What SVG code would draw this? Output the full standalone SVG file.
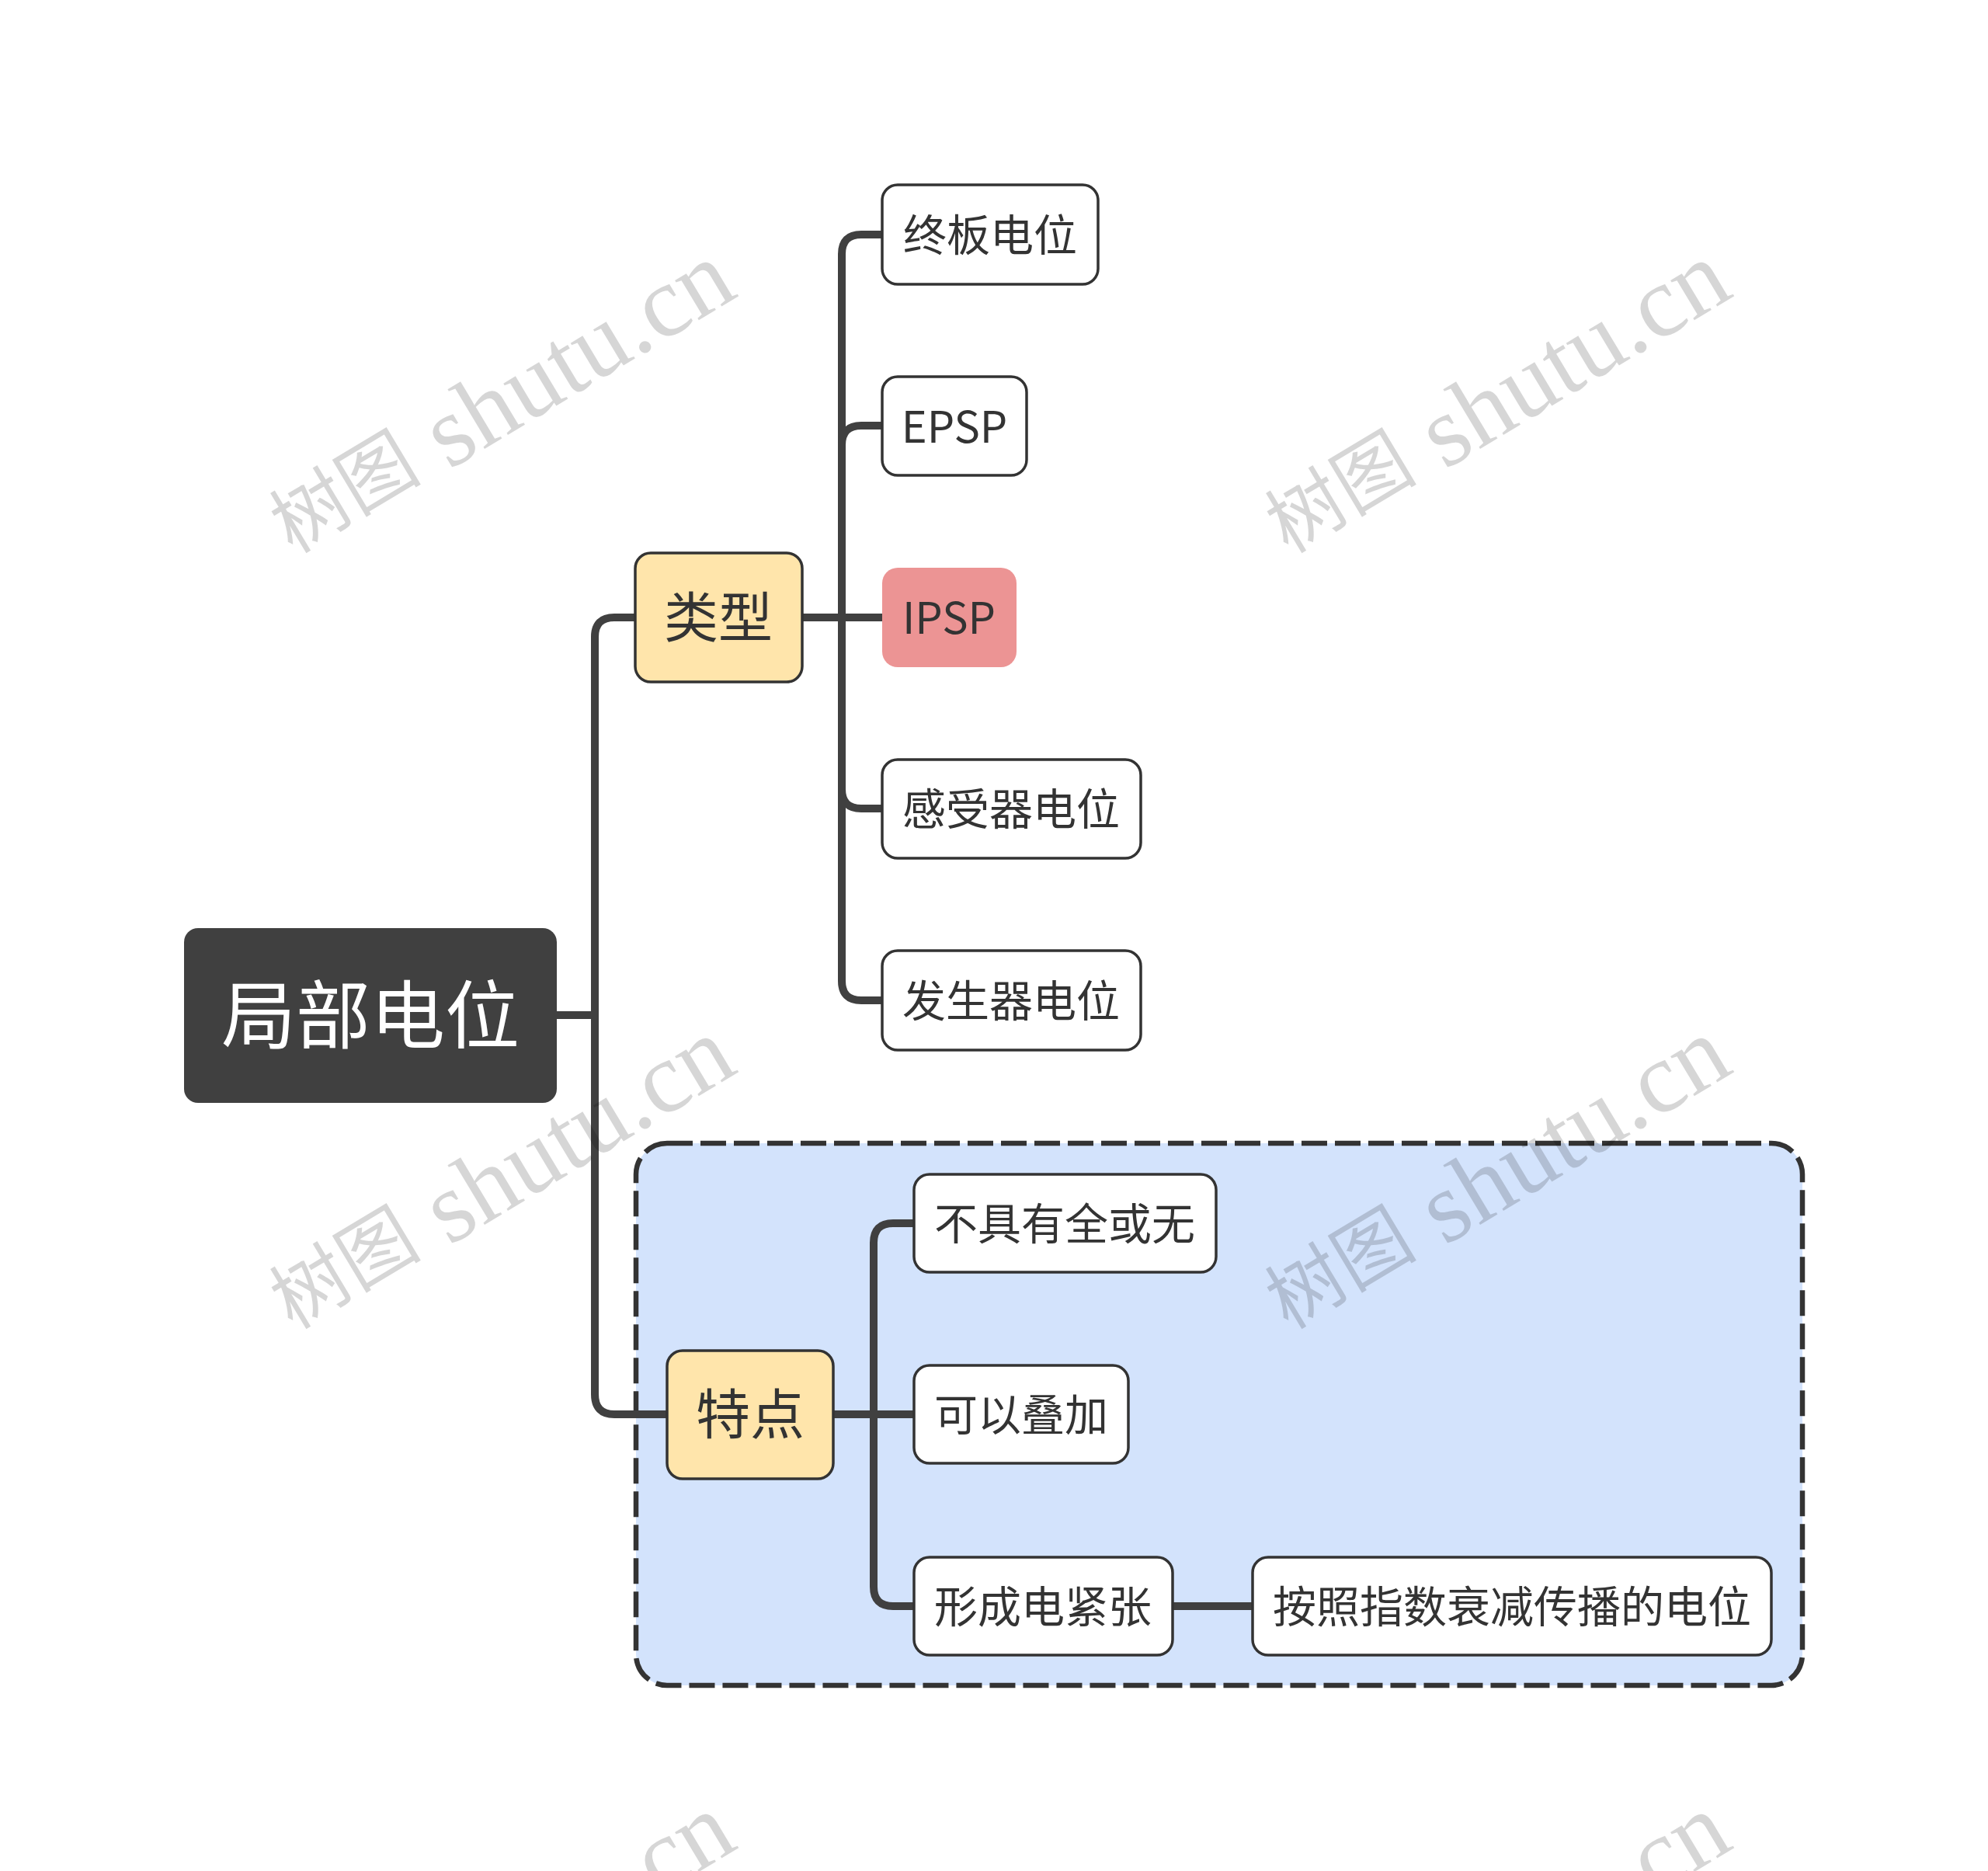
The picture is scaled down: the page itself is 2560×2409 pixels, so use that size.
<svg xmlns="http://www.w3.org/2000/svg" width="2560" height="2409" viewBox="0 0 2560 2409">
<style>
.txt{font-family:"Noto Sans CJK SC","Noto Sans",sans-serif;fill:#333333;text-anchor:middle;dominant-baseline:central}
.leaf{fill:#FFFFFF;stroke:#333333;stroke-width:3.5}
.main{fill:#FFE5AB;stroke:#333333;stroke-width:3.5}
.conn{fill:none;stroke:#404040;stroke-width:10;stroke-linecap:butt}
.wm{font-family:"Liberation Serif","Noto Sans CJK SC",serif;font-size:130px;fill:#000000;fill-opacity:0.16;text-anchor:middle;dominant-baseline:central}
.wm .cjk{font-size:98px}
</style>
<rect x="0" y="0" width="2560" height="2409" fill="#FFFFFF"/>
<g id="boundary">
<rect x="819" y="1472" width="1502" height="698" rx="40" ry="40" fill="#D3E3FC" stroke="#333333" stroke-width="6.5" stroke-dasharray="33 10"/>
</g>
<g id="connectors">
<path class="conn" d="M717 1307 H766 V820 Q766 795 791 795 H818"/>
<path class="conn" d="M766 1307 V1795 Q766 1821 791 1821 H859"/>
<path class="conn" d="M1033 795 H1136"/>
<path class="conn" d="M1084 795 V327 Q1084 302 1109 302 H1136"/>
<path class="conn" d="M1084 795 V573 Q1084 548 1109 548 H1136"/>
<path class="conn" d="M1084 795 V1016 Q1084 1041 1109 1041 H1136"/>
<path class="conn" d="M1084 795 V1263 Q1084 1288 1109 1288 H1136"/>
<path class="conn" d="M1073 1821 H1177"/>
<path class="conn" d="M1125 1821 V1600 Q1125 1575 1150 1575 H1177"/>
<path class="conn" d="M1125 1821 V2043 Q1125 2068 1150 2068 H1177"/>
<path class="conn" d="M1510 2068 H1613"/>
</g>
<g id="root">
<rect x="237" y="1195" width="480" height="225" rx="18" ry="18" fill="#404040"/>
<text class="txt" x="477" y="1300" font-size="96" style="fill:#FFFFFF">局部电位</text>
</g>
<g id="leixing">
<rect class="main" x="818" y="712" width="215" height="166" rx="20" ry="20"/>
<text class="txt" x="925" y="790" font-size="70">类型</text>
</g>
<g id="zhongban">
<rect class="leaf" x="1136" y="238" width="278" height="128" rx="20" ry="20"/>
<text class="txt" x="1275" y="298" font-size="56">终板电位</text>
</g>
<g id="epsp">
<rect class="leaf" x="1136" y="485" width="186" height="127" rx="20" ry="20"/>
<text class="txt" x="1229" y="545" font-size="56">EPSP</text>
</g>
<g id="ipsp">
<rect x="1136" y="731" width="173" height="128" rx="20" ry="20" fill="#EC9494"/>
<text class="txt" x="1222" y="791" font-size="56">IPSP</text>
</g>
<g id="ganshouqi">
<rect class="leaf" x="1136" y="978" width="333" height="127" rx="20" ry="20"/>
<text class="txt" x="1302" y="1037" font-size="56">感受器电位</text>
</g>
<g id="fashengqi">
<rect class="leaf" x="1136" y="1224" width="333" height="128" rx="20" ry="20"/>
<text class="txt" x="1302" y="1284" font-size="56">发生器电位</text>
</g>
<g id="tedian">
<rect class="main" x="859" y="1739" width="214" height="165" rx="20" ry="20"/>
<text class="txt" x="966" y="1816" font-size="70">特点</text>
</g>
<g id="bujuyou">
<rect class="leaf" x="1177" y="1512" width="389" height="126" rx="20" ry="20"/>
<text class="txt" x="1371" y="1571" font-size="56">不具有全或无</text>
</g>
<g id="keyi">
<rect class="leaf" x="1177" y="1758" width="276" height="126" rx="20" ry="20"/>
<text class="txt" x="1315" y="1817" font-size="56">可以叠加</text>
</g>
<g id="xingcheng">
<rect class="leaf" x="1177" y="2005" width="333" height="126" rx="20" ry="20"/>
<text class="txt" x="1343" y="2064" font-size="56">形成电紧张</text>
</g>
<g id="anzhao">
<rect class="leaf" x="1613" y="2005" width="668" height="126" rx="20" ry="20"/>
<text class="txt" x="1947" y="2064" font-size="56">按照指数衰减传播的电位</text>
</g>
<g id="watermarks">
<text class="wm" transform="translate(645 514) rotate(-31)"><tspan class="cjk">树图</tspan> shutu.cn</text>
<text class="wm" transform="translate(1927 514) rotate(-31)"><tspan class="cjk">树图</tspan> shutu.cn</text>
<text class="wm" transform="translate(645 1513) rotate(-31)"><tspan class="cjk">树图</tspan> shutu.cn</text>
<text class="wm" transform="translate(1927 1513) rotate(-31)"><tspan class="cjk">树图</tspan> shutu.cn</text>
<text class="wm" transform="translate(645 2512) rotate(-31)"><tspan class="cjk">树图</tspan> shutu.cn</text>
<text class="wm" transform="translate(1927 2512) rotate(-31)"><tspan class="cjk">树图</tspan> shutu.cn</text>
</g>
</svg>
